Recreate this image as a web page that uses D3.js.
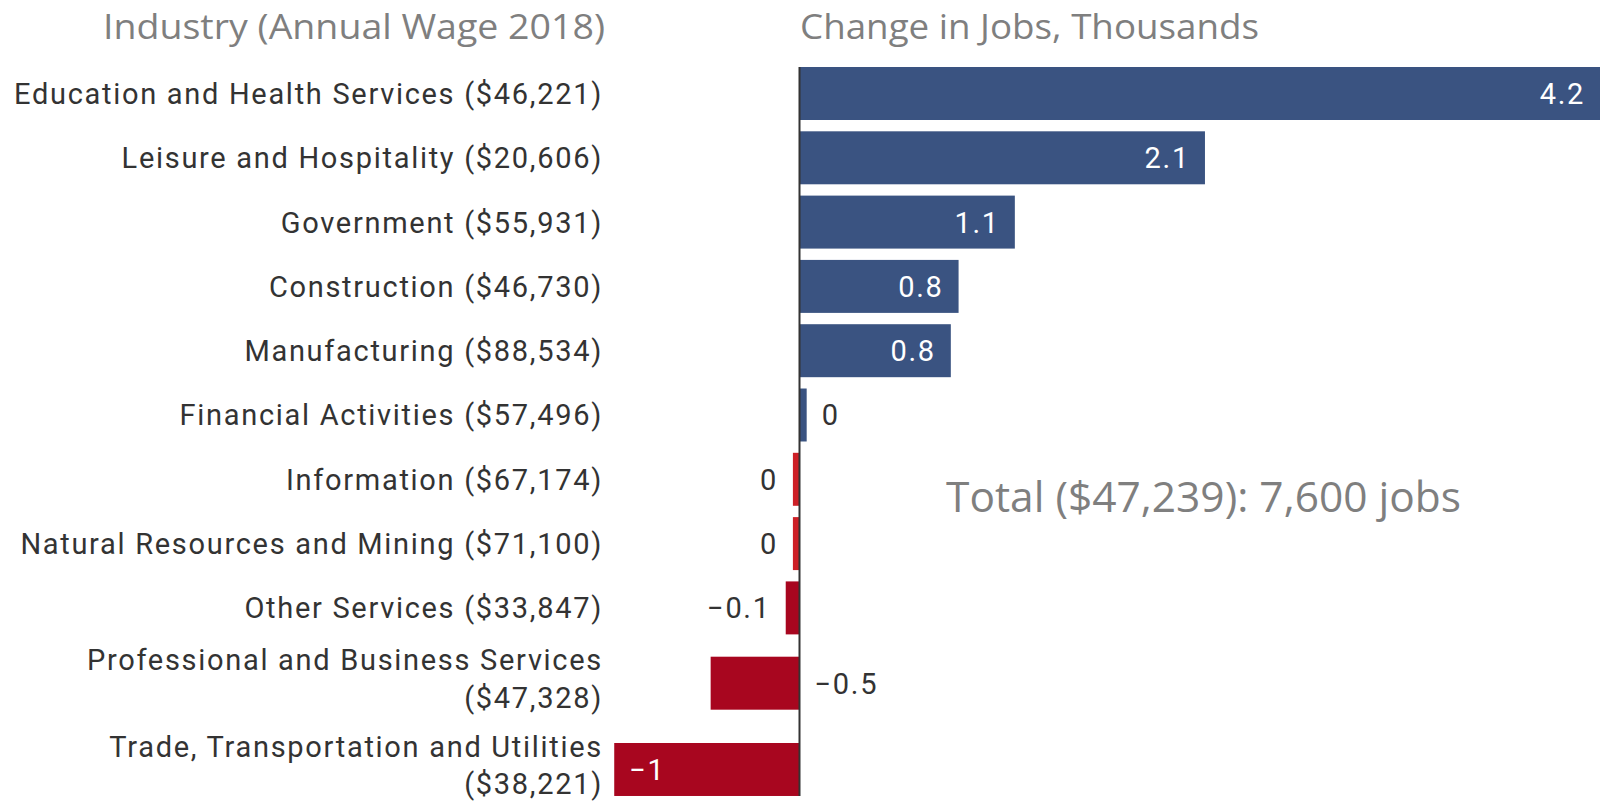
<!DOCTYPE html>
<html>
<head>
<meta charset="utf-8">
<script src="https://cdn.jsdelivr.net/npm/d3@7"></script>
<style>
  html, body { margin: 0; padding: 0; background: #ffffff; }
  svg { display: block; }
</style>
</head>
<body>
<svg id="chart" width="1600" height="802"></svg>
<script>
// ---------------- data ----------------
const categories = [
  "Education and Health Services",
  "Leisure and Hospitality",
  "Government",
  "Construction",
  "Manufacturing",
  "Financial Activities",
  "Information",
  "Natural Resources and Mining",
  "Other Services",
  "Professional and Business Services",
  "Trade, Transportation and Utilities"
];
const wages = ["$46,221", "$20,606", "$55,931", "$46,730", "$88,534", "$57,496",
               "$67,174", "$71,100", "$33,847", "$47,328", "$38,221"];
const jobChange = [4.2, 2.09, 1.11, 0.82, 0.78, 0.037, -0.034, -0.034, -0.071, -0.458, -0.955];
const leftTitle = "Industry (Annual Wage 2018)";
const rightTitle = "Change in Jobs, Thousands";
const totalNote = "Total ($47,239): 7,600 jobs";

// ---------------- layout ----------------
const W = 1600, H = 802;
const svg = d3.select("#chart");
const labelFont = "Roboto, 'Noto Sans', sans-serif";
const titleFont = "'Open Sans', 'Noto Sans', sans-serif";
const fs = 29, ls = 1.7;
const labelRight = 603;
const maxLabelW = 612;
const lineH = 37.5;
const pad = 15;

// measure + wrap labels
const measure = svg.append("text").attr("font-family", labelFont).attr("font-size", fs)
  .attr("letter-spacing", ls).attr("x", -1000).attr("y", -1000);
function textW(s) { measure.text(s); return measure.node().getComputedTextLength(); }
const labelLines = categories.map((c, i) => {
  const full = `${c} (${wages[i]})`;
  if (textW(full) <= maxLabelW) return [full];
  const words = full.split(" ");
  const lines = []; let cur = "";
  words.forEach(w => {
    const t = cur ? cur + " " + w : w;
    if (textW(t) > maxLabelW && cur) { lines.push(cur); cur = w; } else cur = t;
  });
  if (cur) lines.push(cur);
  return lines;
});

// row units: single line = 1, two lines taller
const rowUnits = labelLines.map(l => 1 + (l.length - 1) * 0.342);
const starts = [0, ...d3.cumsum(rowUnits)];
const unitPx = 64.3;
const y = d3.scaleLinear().domain([0, starts[starts.length - 1]])
  .range([61.35, 61.35 + starts[starts.length - 1] * unitPx]);
const barUnits = 0.824;
const center = i => y(starts[i] + rowUnits[i] / 2);
const barH = y(barUnits) - y(0);

const x = d3.scaleLinear().domain([-1, 4.2]).range([605.5, 1614.3]);
const fmt = d3.format(".1~f");

const color = (v) => {
  if (v >= 0) return "#3a5381";
  return Math.abs(x(v) - x(0)) < 10 ? "#cd2027" : "#a8061f";
};

// titles
svg.append("text")
  .attr("x", 605).attr("y", 39)
  .attr("text-anchor", "end")
  .attr("font-family", titleFont).attr("font-size", 35)
  .attr("fill", "#7f7f7f")
  .attr("textLength", 502).attr("lengthAdjust", "spacingAndGlyphs")
  .text(leftTitle);
svg.append("text")
  .attr("x", 800).attr("y", 39)
  .attr("font-family", titleFont).attr("font-size", 35)
  .attr("fill", "#7f7f7f")
  .attr("textLength", 459).attr("lengthAdjust", "spacingAndGlyphs")
  .text(rightTitle);

// category labels
const lab = svg.append("g").attr("font-family", labelFont).attr("font-size", fs)
  .attr("letter-spacing", ls).attr("fill", "#333333");
labelLines.forEach((lines, i) => {
  const c = center(i);
  const shift = lines.length > 1 ? -4.5 : 0;
  const t = lab.append("text").attr("text-anchor", "end");
  lines.forEach((ln, k) => {
    t.append("tspan")
      .attr("x", labelRight)
      .attr("y", c + shift + (k - (lines.length - 1) / 2) * lineH)
      .attr("dy", "0.36em")
      .text(ln);
  });
});

// bars
svg.append("g").selectAll("rect").data(jobChange).join("rect")
  .attr("x", d => Math.min(x(d), x(0)))
  .attr("width", d => Math.abs(x(d) - x(0)))
  .attr("y", (d, i) => center(i) - barH / 2)
  .attr("height", barH)
  .attr("fill", d => color(d));

// axis line
svg.append("line")
  .attr("x1", x(0)).attr("x2", x(0))
  .attr("y1", center(0) - barH / 2)
  .attr("y2", center(jobChange.length - 1) + barH / 2)
  .attr("stroke", "#333333").attr("stroke-width", 2);

// value labels
const vg = svg.append("g").attr("font-family", labelFont).attr("font-size", fs).attr("letter-spacing", ls);
jobChange.forEach((v, i) => {
  const s = fmt(v);
  const tw = textW(s);
  const x0 = x(0), x1 = Math.max(Math.min(x(v), W), 0);
  const bw = Math.abs(x1 - x0);
  let px, anchor, fill;
  if (bw >= tw + 2 * pad) {
    fill = "#ffffff";
    if (v >= 0) { px = x1 - pad; anchor = "end"; } else { px = x1 + pad; anchor = "start"; }
  } else {
    fill = "#333333";
    if (v >= 0) { px = x1 + pad; anchor = "start"; }
    else if (x1 - pad - tw >= 640) { px = x1 - pad; anchor = "end"; }
    else { px = x0 + pad; anchor = "start"; }
  }
  vg.append("text")
    .attr("x", px).attr("y", center(i)).attr("dy", "0.36em")
    .attr("text-anchor", anchor).attr("fill", fill)
    .text(s);
});

// total note
svg.append("text")
  .attr("x", 946).attr("y", 512)
  .attr("font-family", titleFont).attr("font-size", 42)
  .attr("fill", "#7f7f7f")
  .attr("textLength", 515).attr("lengthAdjust", "spacingAndGlyphs")
  .text(totalNote);

measure.remove();
</script>
</body>
</html>
